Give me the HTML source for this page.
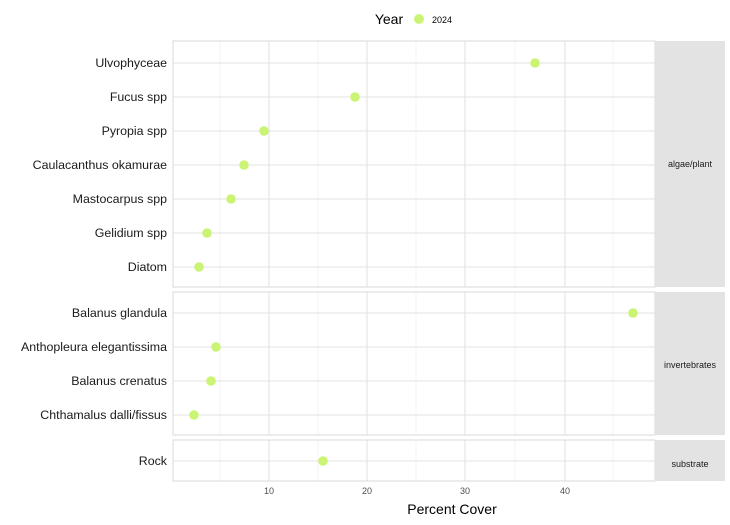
<!DOCTYPE html>
<html><head><meta charset="utf-8"><style>body{margin:0;background:#fff}</style></head><body>
<svg width="730" height="520" xmlns="http://www.w3.org/2000/svg" font-family="Liberation Sans, sans-serif">
<rect width="730" height="520" fill="#fff"/>
<text x="389" y="24" font-size="14" fill="#000" text-anchor="middle">Year</text>
<circle cx="419" cy="19" r="5" fill="#cbf474"/>
<text x="432" y="23" font-size="9" fill="#000">2024</text>
<g stroke="#ebebeb" stroke-width="0.6">
<line x1="220" x2="220" y1="41" y2="287"/><line x1="318" x2="318" y1="41" y2="287"/><line x1="416" x2="416" y1="41" y2="287"/><line x1="515" x2="515" y1="41" y2="287"/><line x1="613" x2="613" y1="41" y2="287"/>
<line x1="220" x2="220" y1="292" y2="435"/><line x1="318" x2="318" y1="292" y2="435"/><line x1="416" x2="416" y1="292" y2="435"/><line x1="515" x2="515" y1="292" y2="435"/><line x1="613" x2="613" y1="292" y2="435"/>
<line x1="220" x2="220" y1="440" y2="481"/><line x1="318" x2="318" y1="440" y2="481"/><line x1="416" x2="416" y1="440" y2="481"/><line x1="515" x2="515" y1="440" y2="481"/><line x1="613" x2="613" y1="440" y2="481"/>
</g>
<g stroke="#e3e3e3" stroke-width="1.1">
<line x1="269" x2="269" y1="41" y2="287"/><line x1="367" x2="367" y1="41" y2="287"/><line x1="465" x2="465" y1="41" y2="287"/><line x1="565" x2="565" y1="41" y2="287"/>
<line x1="269" x2="269" y1="292" y2="435"/><line x1="367" x2="367" y1="292" y2="435"/><line x1="465" x2="465" y1="292" y2="435"/><line x1="565" x2="565" y1="292" y2="435"/>
<line x1="269" x2="269" y1="440" y2="481"/><line x1="367" x2="367" y1="440" y2="481"/><line x1="465" x2="465" y1="440" y2="481"/><line x1="565" x2="565" y1="440" y2="481"/>
<line x1="173" x2="655" y1="63" y2="63"/><line x1="173" x2="655" y1="97" y2="97"/><line x1="173" x2="655" y1="131" y2="131"/><line x1="173" x2="655" y1="165" y2="165"/><line x1="173" x2="655" y1="199" y2="199"/><line x1="173" x2="655" y1="233" y2="233"/><line x1="173" x2="655" y1="267" y2="267"/>
<line x1="173" x2="655" y1="313" y2="313"/><line x1="173" x2="655" y1="347" y2="347"/><line x1="173" x2="655" y1="381" y2="381"/><line x1="173" x2="655" y1="415" y2="415"/>
<line x1="173" x2="655" y1="461" y2="461"/>
</g>
<g fill="none" stroke="#d9d9d9" stroke-width="1">
<rect x="173" y="41" width="482" height="246"/><rect x="173" y="292" width="482" height="143"/><rect x="173" y="440" width="482" height="41"/>
</g>
<g fill="#e3e3e3">
<rect x="655" y="41" width="70" height="246"/><rect x="655" y="292" width="70" height="143"/><rect x="655" y="440" width="70" height="41"/>
</g>
<g font-size="9" fill="#1a1a1a" text-anchor="middle">
<text x="690" y="167">algae/plant</text><text x="690" y="368">invertebrates</text><text x="690" y="467">substrate</text>
</g>
<g fill="#cbf474">
<circle cx="535" cy="63" r="4.8"/><circle cx="355" cy="97" r="4.8"/><circle cx="264" cy="131" r="4.8"/><circle cx="244" cy="165" r="4.8"/><circle cx="231" cy="199" r="4.8"/><circle cx="207" cy="233" r="4.8"/><circle cx="199" cy="267" r="4.8"/>
<circle cx="633" cy="313" r="4.8"/><circle cx="216" cy="347" r="4.8"/><circle cx="211" cy="381" r="4.8"/><circle cx="194" cy="415" r="4.8"/>
<circle cx="323" cy="461" r="4.8"/>
</g>
<g font-size="12.4" fill="#1a1a1a" text-anchor="end">
<text x="167" y="67">Ulvophyceae</text><text x="167" y="101">Fucus spp</text><text x="167" y="135">Pyropia spp</text><text x="167" y="169">Caulacanthus okamurae</text><text x="167" y="203">Mastocarpus spp</text><text x="167" y="237">Gelidium spp</text><text x="167" y="271">Diatom</text>
<text x="167" y="317">Balanus glandula</text><text x="167" y="351">Anthopleura elegantissima</text><text x="167" y="385">Balanus crenatus</text><text x="167" y="419">Chthamalus dalli/fissus</text>
<text x="167" y="465">Rock</text>
</g>
<g font-size="9" fill="#4d4d4d" text-anchor="middle">
<text x="269" y="494">10</text><text x="367" y="494">20</text><text x="465" y="494">30</text><text x="565" y="494">40</text>
</g>
<text x="452" y="514" font-size="14" fill="#000" text-anchor="middle">Percent Cover</text>
</svg>
</body></html>
